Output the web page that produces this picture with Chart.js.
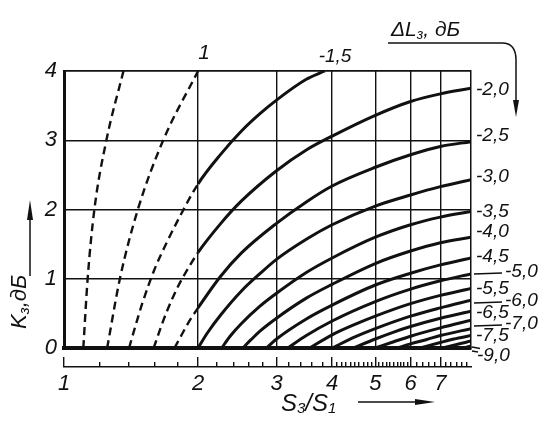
<!DOCTYPE html>
<html>
<head>
<meta charset="utf-8">
<script src="https://cdn.jsdelivr.net/npm/chart.js@4.4.1/dist/chart.umd.min.js"></script>
<style>
  html, body { margin: 0; padding: 0; background: #fff; }
  #wrap { position: relative; width: 554px; height: 431px; }
</style>
</head>
<body>
<div id="wrap"><canvas id="chart"></canvas></div>
<script>
// ΔL3, дБ for every curve
const levels = [-0.5, -1, -1.5, -2, -2.5, -3, -3.5, -4, -4.5, -5, -5.5, -6, -6.5, -7, -7.5, -8, -8.5, -9];

// S3/S1 (x) and K3, дБ (y), one pair per curve
const s05 = [1.105, 1.13, 1.17, 1.245, 1.36];
const k05 = [0, 1, 2, 3, 4];
const s10 = [1.25, 1.335, 1.465, 1.67, 2.0];
const k10 = [0, 1, 2, 3, 4];
const s15 = [1.40, 1.45, 1.5, 1.6, 1.7, 1.8, 2.0, 2.25, 2.5, 2.75, 3.0, 3.5, 3.85];
const k15 = [0, 0.34, 0.65, 1.15, 1.52, 1.84, 2.37, 2.8, 3.13, 3.38, 3.58, 3.88, 4.0];
const s20 = [1.59, 1.65, 1.7, 1.8, 1.9, 2.0, 2.25, 2.5, 3.0, 3.5, 4.0, 5.0, 6.0, 7.0, 8.2];
const k20 = [0, 0.3, 0.52, 0.88, 1.15, 1.38, 1.8, 2.12, 2.56, 2.86, 3.06, 3.36, 3.56, 3.67, 3.75];
const s25 = [1.77, 1.83, 1.9, 2.0, 2.25, 2.5, 3.0, 3.5, 4.0, 5.0, 6.0, 7.0, 8.2];
const k25 = [0, 0.17, 0.36, 0.58, 1.04, 1.37, 1.8, 2.11, 2.34, 2.61, 2.79, 2.91, 2.98];
const s30 = [2.0, 2.1, 2.25, 2.5, 2.75, 3.0, 3.5, 4.0, 5.0, 6.0, 7.0, 8.2];
const k30 = [0, 0.22, 0.48, 0.82, 1.07, 1.28, 1.57, 1.78, 2.05, 2.21, 2.33, 2.43];
const s35 = [2.26, 2.36, 2.5, 2.75, 3.0, 3.5, 4.0, 5.0, 6.0, 7.0, 8.2];
const k35 = [0, 0.17, 0.35, 0.6, 0.79, 1.09, 1.3, 1.6, 1.78, 1.89, 1.97];
const s40 = [2.52, 2.63, 2.75, 3.0, 3.5, 4.0, 5.0, 6.0, 7.0, 8.2];
const k40 = [0, 0.12, 0.24, 0.43, 0.72, 0.92, 1.22, 1.4, 1.52, 1.6];
const s45 = [2.85, 3.0, 3.5, 4.0, 5.0, 6.0, 7.0, 8.2];
const k45 = [0, 0.13, 0.42, 0.62, 0.91, 1.08, 1.2, 1.3];
const s50 = [3.18, 3.5, 4.0, 5.0, 6.0, 7.0, 8.2];
const k50 = [0, 0.18, 0.39, 0.67, 0.85, 0.97, 1.07];
const s55 = [3.56, 4.0, 4.5, 5.0, 6.0, 7.0, 8.2];
const k55 = [0, 0.19, 0.34, 0.46, 0.64, 0.76, 0.86];
const s60 = [4.0, 4.5, 5.0, 6.0, 7.0, 8.2];
const k60 = [0, 0.16, 0.28, 0.46, 0.58, 0.69];
const s65 = [4.47, 5.0, 5.5, 6.0, 7.0, 8.2];
const k65 = [0, 0.13, 0.23, 0.31, 0.43, 0.53];
const s70 = [5.0, 5.5, 6.0, 7.0, 8.2];
const k70 = [0, 0.09, 0.17, 0.29, 0.4];
const s75 = [5.6, 6.0, 6.5, 7.0, 8.2];
const k75 = [0, 0.06, 0.12, 0.18, 0.28];
const s80 = [6.3, 7.0, 7.5, 8.2];
const k80 = [0, 0.08, 0.13, 0.18];
const s85 = [7.1, 7.5, 8.2];
const k85 = [0, 0.04, 0.1];
const s90 = [7.9, 8.2];
const k90 = [0, 0.03];

const curveS = [s05, s10, s15, s20, s25, s30, s35, s40, s45, s50, s55, s60, s65, s70, s75, s80, s85, s90];
const curveK = [k05, k10, k15, k20, k25, k30, k35, k40, k45, k50, k55, k60, k65, k70, k75, k80, k85, k90];

// axis ticks
const majorTicks = [1, 2, 3, 4, 5, 6, 7];
const minorTicks = [1.2, 1.4, 1.6, 1.8, 2.2, 2.4, 2.6, 2.8, 3.2, 3.4, 3.6, 3.8,
  4.1, 4.2, 4.3, 4.4, 4.5, 4.6, 4.7, 4.8, 4.9, 5.1, 5.2, 5.3, 5.4, 5.5, 5.6, 5.7, 5.8, 5.9,
  6.2, 6.4, 6.6, 6.8, 7.2, 7.4, 7.6, 7.8, 8.0];
const kTicks = [0, 1, 2, 3, 4];

// curve labels (text, x, y in px)
const topLabels = [["1", 204, 53, 21], ["-1,5", 335, 57, 19]];
const sideLabels = [
  ["-2,0", 476, 90], ["-2,5", 476, 136], ["-3,0", 476, 177], ["-3,5", 476, 212],
  ["-4,0", 476, 232], ["-4,5", 476, 257], ["-5,0", 505, 272, 1], ["-5,5", 476, 289],
  ["-6,0", 505, 301, 1], ["-6,5", 476, 313], ["-7,0", 505, 324, 1], ["-7,5", 476, 336],
  ["-9,0", 477, 356]
];

const FONT = "'Liberation Sans', 'DejaVu Sans', sans-serif";
const INK = "#111";

const datasets = levels.map((lv, i) => ({
  label: String(lv),
  data: curveS[i].map((s, j) => ({ x: s, y: curveK[i][j] })),
  borderColor: INK,
  borderWidth: 3,
  pointRadius: 0,
  fill: false,
  cubicInterpolationMode: "monotone",
  segment: {
    borderDash: ctx => (ctx.p1.parsed.x <= 2.001 ? [8, 5] : undefined),
    borderWidth: ctx => (ctx.p1.parsed.x <= 2.001 ? 2.4 : undefined)
  }
}));

function put(c, str, x, y, size) {
  c.font = `italic ${size}px ${FONT}`;
  c.fillText(str, x, y);
  return c.measureText(str).width;
}

// text with subscripts: parts = [[text, isSub], ...]
function putSub(c, parts, x, y, size, subSize) {
  let cx = x;
  for (const [t, sub] of parts) {
    cx += put(c, t, cx, sub ? y + size * 0.22 : y, sub ? subSize : size);
  }
  return cx;
}

function arrowHead(c, x, y, dx, dy, len, half) {
  // tip at (x, y), pointing along (dx, dy)
  c.beginPath();
  c.moveTo(x, y);
  c.lineTo(x - dx * len - dy * half, y - dy * len + dx * half);
  c.lineTo(x - dx * len + dy * half, y - dy * len - dx * half);
  c.closePath();
  c.fill();
}

const notes = {
  id: "notes",
  afterDraw(chart) {
    const c = chart.ctx;
    c.save();
    c.fillStyle = INK;
    c.strokeStyle = INK;
    c.textBaseline = "middle";
    c.textAlign = "left";

    // curve labels
    for (const [t, x, y, size] of topLabels) {
      c.textAlign = "center";
      put(c, t, x, y, size);
    }
    c.textAlign = "left";
    c.lineWidth = 1.3;
    for (const [t, x, y, lead] of sideLabels) {
      put(c, t, x, y, 19);
      if (lead) {
        c.beginPath();
        c.moveTo(474, y + 2);
        c.lineTo(x - 3, y + 1);
        c.stroke();
      }
    }
    c.beginPath();
    c.moveTo(472, 347); c.lineTo(480, 348.5);
    c.moveTo(472, 351); c.lineTo(478, 352);
    c.stroke();

    // ΔL3 title with curved arrow
    putSub(c, [["ΔL", 0], ["з", 1], [", дБ", 0]], 391, 30, 21, 14);
    c.lineWidth = 1.5;
    c.beginPath();
    c.moveTo(388, 43);
    c.lineTo(502, 43);
    c.quadraticCurveTo(516, 43, 516, 60);
    c.lineTo(516, 104);
    c.stroke();
    arrowHead(c, 516, 117, 0, 1, 17, 3);

    // x title
    putSub(c, [["S", 0], ["3", 1], ["/", 0], ["S", 0], ["1", 1]], 281, 404, 24, 15);
    c.beginPath();
    c.moveTo(358, 402);
    c.lineTo(420, 402);
    c.stroke();
    arrowHead(c, 435, 402, 1, 0, 20, 3);

    // y title, rotated
    c.save();
    c.translate(20, 329);
    c.rotate(-Math.PI / 2);
    putSub(c, [["K", 0], ["з", 1], [",дБ", 0]], 0, 0, 22, 15);
    c.restore();
    c.beginPath();
    c.moveTo(30, 276);
    c.lineTo(30, 214);
    c.stroke();
    arrowHead(c, 30, 200, 0, -1, 20, 3);

    c.restore();
  }
};

const tickFont = { family: FONT, size: 22, style: "italic" };

new Chart(document.getElementById("chart"), {
  type: "line",
  data: { datasets },
  plugins: [notes],
  options: {
    responsive: true,
    maintainAspectRatio: false,
    animation: false,
    layout: { padding: { left: 34, right: 83, top: 71, bottom: 34 } },
    plugins: { legend: { display: false }, tooltip: { enabled: false } },
    scales: {
      x: {
        type: "logarithmic",
        position: "bottom",
        min: 1,
        max: 8.2,
        afterBuildTicks: sc => {
          sc.ticks = [...majorTicks, ...minorTicks].sort((a, b) => a - b).map(v => ({ value: v }));
        },
        afterFit: sc => { sc.height = 19; },
        ticks: { display: false, autoSkip: false },
        grid: {
          color: ctx => (ctx.tick && ctx.tick.value > 1 && majorTicks.includes(ctx.tick.value) ? INK : "rgba(0,0,0,0)"),
          lineWidth: 1.4,
          drawTicks: true,
          tickLength: 19,
          tickColor: INK,
          tickWidth: 1.4,
          tickBorderDash: ctx => (ctx.tick && majorTicks.includes(ctx.tick.value) ? [0, 7, 12] : [0, 12, 8])
        },
        border: { display: true, color: INK, width: 4 }
      },
      x2: {
        type: "logarithmic",
        position: "bottom",
        min: 1,
        max: 8.2,
        afterBuildTicks: sc => { sc.ticks = majorTicks.map(v => ({ value: v })); },
        afterFit: sc => { sc.height = 30; },
        ticks: {
          autoSkip: false,
          maxRotation: 0,
          padding: 4,
          color: INK,
          font: tickFont,
          callback: v => String(v)
        },
        grid: { display: true, drawOnChartArea: false, drawTicks: false, color: "rgba(0,0,0,0)" },
        border: { display: true, color: INK, width: 1.5 }
      },
      y: {
        min: 0,
        max: 4,
        afterBuildTicks: sc => { sc.ticks = kTicks.map(v => ({ value: v })); },
        afterFit: sc => { sc.width = 30; },
        ticks: { padding: 7, color: INK, font: tickFont },
        grid: {
          drawTicks: false,
          color: ctx => (ctx.tick && ctx.tick.value > 0 ? INK : "rgba(0,0,0,0)"),
          lineWidth: ctx => (ctx.tick && ctx.tick.value === 4 ? 1.7 : 1.4)
        },
        border: { display: true, color: INK, width: 3 }
      },
      y2: {
        position: "right",
        min: 0,
        max: 4,
        afterFit: sc => { sc.width = 0; },
        ticks: { display: false },
        grid: { drawOnChartArea: false, drawTicks: false },
        border: { display: true, color: INK, width: 1.5 }
      }
    }
  }
});
</script>
</body>
</html>
